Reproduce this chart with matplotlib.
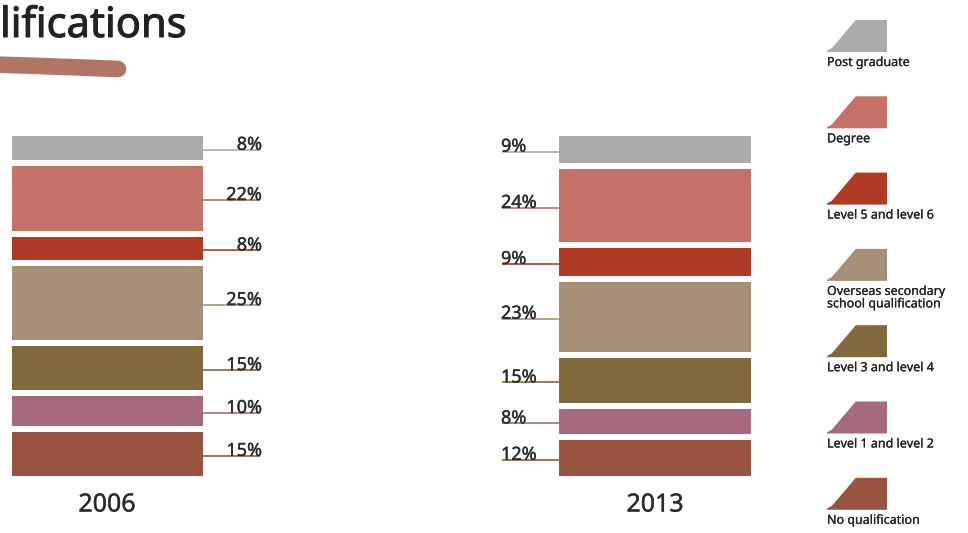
import matplotlib
matplotlib.use('Agg')
import matplotlib.pyplot as plt
import matplotlib.patheffects as pe
import numpy as np
from matplotlib.patches import Polygon

plt.rcParams['font.family'] = ['Noto Sans', 'DejaVu Sans']

# ---- data ----
categories = ["Post graduate", "Degree", "Level 5 and level 6",
              "Overseas secondary\nschool qualification", "Level 3 and level 4",
              "Level 1 and level 2", "No qualification"]
years = ["2006", "2013"]
values_2006 = [8, 22, 8, 25, 15, 10, 15]
values_2013 = [9, 24, 9, 23, 15, 8, 12]
colors = ["#ababab", "#c47267", "#b03a26", "#a69079", "#80693f", "#a56a7e", "#98543f"]
title_text = "lifications"

# ---- figure in pixel coordinates ----
W, H = 968, 533
fig = plt.figure(figsize=(W / 100, H / 100), dpi=100)
ax = fig.add_axes([0, 0, 1, 1])
ax.set_xlim(0, W)
ax.set_ylim(H, 0)
ax.axis('off')

TOP, BOTTOM, GAP = 136, 476, 6
TXT = '#2b2b2b'


def heavy(lw, col):
    return [pe.withStroke(linewidth=lw, foreground=col)]


def draw_bar(values, x_left, width, side, year, year_x):
    vals = np.array(values, dtype=float)
    n = len(vals)
    usable = (BOTTOM - TOP) - GAP * (n - 1)
    heights = vals * usable / vals.sum()
    starts = TOP + np.concatenate([[0], np.cumsum(heights[:-1])]) + GAP * np.arange(n)
    ax.bar([x_left] * n, heights, width=width, bottom=starts, align='edge',
           color=colors, edgecolor='none')
    mids = starts + heights / 2 + 2
    for v, y, c in zip(values, mids, colors):
        if side == 'right':
            x0 = x_left + width
            ax.plot([x0, x0 + 57], [y, y], color=c, lw=1.2, solid_capstyle='butt')
            ax.text(x0 + 59, y, f"{v}%", ha='right', va='baseline', fontsize=13,
                    color=TXT, path_effects=heavy(0.25, TXT))
        else:
            ax.plot([x_left - 57, x_left], [y, y], color=c, lw=1.2, solid_capstyle='butt')
            ax.text(x_left - 58, y, f"{v}%", ha='left', va='baseline', fontsize=13,
                    color=TXT, path_effects=heavy(0.25, TXT))
    ax.text(year_x, 505, year, ha='center', va='center', fontsize=18, color=TXT,
            path_effects=heavy(0.25, TXT))


draw_bar(values_2006, 12, 191, 'right', years[0], 107)
draw_bar(values_2013, 559, 192, 'left', years[1], 655)

# ---- legend with cut-corner swatches ----
shape = np.array([(0, 0), (1, 0), (1, 1), (0.48, 1), (0.08, 0.12), (0.0, 0.04)])
sw_x, sw_w, sw_h = 827, 60, 32
for i, (cat, c) in enumerate(zip(categories, colors)):
    top = 20 + i * 76.3
    bot = top + sw_h
    pts = np.column_stack([sw_x + shape[:, 0] * sw_w, bot - shape[:, 1] * sw_h])
    ax.add_patch(Polygon(pts, closed=True, facecolor=c, edgecolor='none'))
    ax.text(sw_x, bot + 4, cat, ha='left', va='top', fontsize=9, color='#222222',
            linespacing=0.95, path_effects=heavy(0.15, '#222222'))

# ---- title and brush stroke ----
ax.text(0, 37, title_text, ha='left', va='baseline', fontsize=30, color='#222222',
        path_effects=heavy(0.7, '#222222'))
ax.plot([-8, 40, 80, 118], [64.5, 66, 67.5, 69], color='#b07565', lw=12,
        solid_capstyle='round')

fig.savefig('out.png', dpi=100)
